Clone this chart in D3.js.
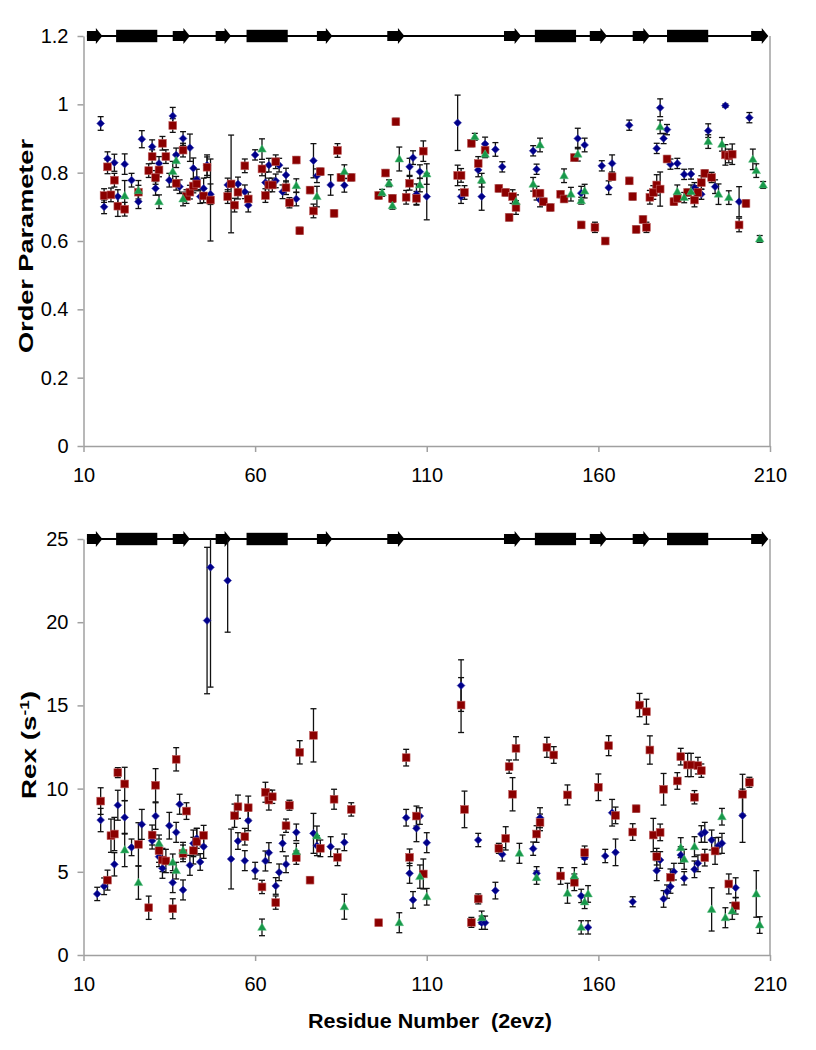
<!DOCTYPE html>
<html>
<head>
<meta charset="utf-8">
<script src="https://cdn.jsdelivr.net/npm/d3@7"></script>
<style>
  html, body { margin: 0; padding: 0; background: #fff; }
  svg { display: block; }
  text { font-family: "Liberation Sans", Arial, sans-serif; }
</style>
</head>
<body>
<svg id="chart" width="816" height="1050"></svg>
<script>
// ---------------- DATA ----------------
// Secondary structure (residue ranges)
const strands = [[11,15.5],[36,41],[48.5,53],[78,82.5],[98.5,103.5],[132.5,137.5],[157.5,162.5],[170,175],[204.5,209.5]];
const helices = [[19.5,31.5],[57.5,69.5],[141.5,153.5],[180,192]];

const xTicks = [10, 60, 110, 160, 210];
const s2Ticks = [0, 0.2, 0.4, 0.6, 0.8, 1, 1.2];
const rexTicks = [0, 5, 10, 15, 20, 25];

// Order parameter: [residue, value, error]
const s2Blue = [[15,0.944,0.02],[16,0.70,0.02],[17,0.841,0.02],[19,0.829,0.025],[20,0.73,0.02],[22,0.825,0.03],[24,0.778,0.02],[26,0.715,0.02],[27,0.898,0.025],[30,0.876,0.02],[31,0.754,0.02],[32,0.827,0.02],[35,0.778,0.02],[36,0.966,0.025],[37,0.852,0.02],[38,0.759,0.02],[39,0.90,0.02],[41,0.873,0.04],[42,0.813,0.03],[43,0.78,0.03],[44,0.73,0.02],[45,0.754,0.03],[46,0.822,0.03],[47,0.737,0.03],[52,0.764,0.02],[55,0.767,0.02],[57,0.744,0.02],[58,0.705,0.02],[60,0.852,0.015],[63,0.771,0.03],[64,0.822,0.02],[66,0.776,0.02],[67,0.822,0.02],[68,0.744,0.02],[69,0.793,0.02],[72,0.723,0.02],[77,0.835,0.05],[78,0.791,0.02],[82,0.764,0.03],[86,0.763,0.02],[105,0.817,0.025],[106,0.844,0.02],[107,0.737,0.03],[108,0.803,0.02],[110,0.73,0.068],[119,0.946,0.081],[120,0.73,0.02],[125,0.808,0.02],[126,0.73,0.04],[127,0.884,0.02],[130,0.868,0.02],[132,0.817,0.015],[141,0.864,0.015],[142,0.81,0.015],[143,0.72,0.02],[154,0.90,0.03],[155,0.74,0.02],[156,0.881,0.02],[161,0.82,0.015],[163,0.756,0.02],[164,0.827,0.025],[169,0.939,0.015],[177,0.871,0.015],[178,0.99,0.026],[179,0.90,0.015],[180,0.926,0.015],[181,0.825,0.015],[183,0.827,0.015],[185,0.795,0.015],[187,0.796,0.015],[188,0.756,0.015],[190,0.737,0.015],[192,0.923,0.02],[194,0.759,0.02],[197,0.996,0.005],[201,0.715,0.044],[204,0.961,0.015]];
const s2Red = [[16,0.733,0.02],[17,0.817,0.02],[18,0.735,0.02],[19,0.778,0.02],[20,0.702,0.03],[22,0.693,0.02],[26,0.743,0.02],[29,0.806,0.02],[30,0.847,0.02],[31,0.786,0.02],[32,0.808,0.02],[33,0.886,0.02],[34,0.847,0.02],[36,0.938,0.02],[37,0.769,0.02],[39,0.866,0.02],[40,0.73,0.02],[41,0.743,0.02],[42,0.761,0.02],[43,0.767,0.02],[45,0.732,0.02],[46,0.816,0.03],[47,0.72,0.12],[52,0.73,0.02],[53,0.767,0.143],[54,0.705,0.02],[55,0.743,0.02],[57,0.82,0.02],[58,0.723,0.02],[62,0.811,0.02],[63,0.733,0.02],[64,0.764,0.02],[65,0.764,0.02],[66,0.832,0.02],[69,0.756,0.02],[70,0.712,0.015],[72,0.837,0.01],[73,0.63,0.01],[76,0.749,0.01],[77,0.688,0.02],[79,0.803,0.01],[83,0.681,0.01],[84,0.865,0.02],[85,0.786,0.01],[88,0.786,0.01],[96,0.733,0.01],[98,0.799,0.01],[100,0.725,0.01],[101,0.949,0.01],[104,0.728,0.02],[105,0.769,0.02],[107,0.725,0.02],[109,0.863,0.03],[119,0.792,0.03],[120,0.792,0.02],[121,0.742,0.02],[123,0.886,0.01],[125,0.827,0.02],[127,0.866,0.02],[131,0.754,0.01],[133,0.742,0.01],[134,0.669,0.01],[135,0.73,0.02],[136,0.698,0.02],[142,0.74,0.02],[143,0.74,0.01],[144,0.715,0.01],[146,0.698,0.01],[149,0.737,0.01],[150,0.723,0.01],[153,0.844,0.01],[155,0.647,0.01],[159,0.64,0.015],[162,0.60,0.01],[164,0.788,0.01],[169,0.776,0.01],[170,0.73,0.01],[171,0.634,0.01],[173,0.663,0.01],[174,0.64,0.015],[175,0.728,0.02],[176,0.742,0.02],[177,0.764,0.03],[178,0.752,0.05],[180,0.84,0.01],[182,0.715,0.01],[183,0.725,0.01],[186,0.742,0.01],[188,0.72,0.02],[189,0.742,0.02],[190,0.771,0.02],[191,0.798,0.01],[193,0.786,0.015],[197,0.852,0.03],[198,0.849,0.02],[199,0.854,0.03],[201,0.647,0.02],[203,0.71,0.01]];
const s2Green = [[22,0.732,0.045],[26,0.747,0.03],[32,0.715,0.02],[36,0.803,0.03],[37,0.835,0.02],[39,0.723,0.02],[62,0.869,0.03],[72,0.762,0.02],[78,0.73,0.03],[86,0.803,0.02],[97,0.741,0.01],[99,0.769,0.01],[100,0.703,0.01],[102,0.84,0.035],[108,0.764,0.02],[110,0.796,0.03],[124,0.905,0.01],[126,0.778,0.02],[127,0.854,0.01],[136,0.715,0.02],[141,0.766,0.02],[143,0.881,0.02],[150,0.791,0.02],[152,0.737,0.02],[154,0.854,0.02],[155,0.718,0.01],[156,0.746,0.02],[178,0.934,0.02],[183,0.744,0.02],[185,0.727,0.015],[187,0.744,0.02],[192,0.891,0.02],[195,0.737,0.03],[196,0.883,0.02],[198,0.727,0.02],[205,0.839,0.03],[206,0.806,0.02],[207,0.606,0.01],[208,0.764,0.01]];

// Rex (s^-1): [residue, value, error]
const rexBlue = [[14,3.67,0.4],[15,8.11,0.7],[16,4.13,0.5],[19,5.45,0.7],[20,9.0,0.9],[22,8.27,1.0],[24,6.47,0.5],[27,7.85,0.9],[30,6.87,0.5],[31,8.35,0.8],[32,5.91,0.6],[33,5.21,0.6],[35,7.77,0.8],[36,4.35,0.6],[37,7.37,0.6],[38,9.06,0.6],[39,3.91,0.6],[41,5.39,0.6],[42,6.71,0.8],[43,7.01,0.6],[44,5.59,0.5],[45,6.51,0.7],[46,20.1,4.4],[47,23.3,7.2],[52,22.5,3.1],[53,5.77,1.8],[55,6.85,0.5],[57,5.67,0.6],[58,8.07,0.6],[60,5.07,0.5],[63,5.65,0.6],[64,6.15,0.6],[66,4.15,0.5],[67,4.97,0.5],[68,6.71,0.5],[69,5.45,0.5],[72,7.37,0.5],[77,7.31,1.2],[78,6.57,0.6],[82,6.51,0.6],[86,6.77,0.5],[104,8.25,0.5],[105,4.91,0.6],[106,3.31,0.5],[107,7.61,0.8],[108,8.35,0.5],[110,6.75,0.6],[120,16.19,1.55],[125,6.91,0.4],[126,1.94,0.4],[127,1.94,0.4],[130,3.87,0.5],[132,6.05,0.4],[141,6.39,0.4],[142,4.91,0.4],[143,8.25,0.6],[155,3.55,0.4],[156,5.85,0.4],[157,1.66,0.4],[162,5.95,0.4],[164,8.55,0.8],[165,6.17,0.8],[170,3.2,0.3],[177,5.07,0.6],[178,5.71,0.5],[179,3.37,0.5],[180,3.81,0.4],[181,4.11,0.4],[182,5.01,0.5],[184,6.01,0.5],[185,4.61,0.4],[188,5.15,0.5],[189,5.51,0.5],[190,7.27,0.5],[191,7.37,0.6],[193,6.91,0.6],[195,6.57,0.5],[196,6.71,0.6],[200,4.04,0.6],[202,8.37,1.6]];
const rexRed = [[15,9.25,0.8],[17,4.5,0.6],[18,7.17,1.0],[19,7.27,1.0],[20,10.96,0.3],[22,10.28,1.0],[26,6.65,1.3],[29,2.84,0.7],[30,7.21,0.6],[31,10.2,1.0],[32,6.27,0.7],[33,5.71,0.7],[34,5.65,0.7],[36,2.78,0.6],[37,11.76,0.7],[39,6.11,0.5],[40,8.65,0.5],[42,6.27,0.8],[43,6.81,0.8],[45,7.19,0.6],[54,8.37,0.7],[55,8.91,0.7],[57,7.11,0.5],[58,8.85,0.7],[62,4.09,0.4],[63,9.78,0.6],[64,9.31,0.6],[65,9.51,0.4],[66,3.15,0.4],[69,7.77,0.4],[70,9.0,0.3],[72,5.85,0.4],[73,12.18,0.7],[76,4.5,0.2],[77,13.2,1.6],[79,6.41,0.5],[83,9.36,0.6],[84,5.87,0.5],[88,8.75,0.4],[96,1.94,0.1],[104,11.86,0.5],[105,5.87,0.5],[107,8.35,0.6],[109,4.87,0.9],[120,15.02,1.65],[121,8.75,1.1],[123,1.96,0.3],[125,3.37,0.3],[131,6.41,0.3],[133,7.01,0.7],[134,11.32,0.4],[135,9.66,1.0],[136,12.42,0.7],[142,7.27,0.5],[143,7.97,0.5],[145,12.48,0.6],[147,12.02,0.5],[149,4.75,0.5],[151,9.62,0.6],[153,4.37,0.5],[156,6.15,0.4],[160,10.08,0.8],[163,12.58,0.6],[165,8.39,0.5],[170,7.39,0.5],[171,8.79,0.2],[172,15.02,0.7],[174,14.62,0.75],[175,12.32,0.85],[176,7.21,1.0],[177,5.91,0.5],[178,7.37,0.5],[179,9.96,0.95],[181,4.67,0.5],[183,10.46,0.5],[184,11.92,0.5],[186,11.42,0.7],[187,11.42,0.7],[188,9.48,0.4],[189,11.38,0.5],[190,11.08,0.4],[191,5.85,0.5],[194,6.25,0.8],[198,4.27,0.6],[200,2.96,0.5],[202,9.66,1.2],[204,10.38,0.3]];
const rexGreen = [[22,6.31,1.0],[26,4.35,1.0],[32,6.71,0.5],[36,5.57,0.5],[37,5.07,0.5],[39,6.27,0.5],[62,1.66,0.5],[72,6.21,0.5],[78,7.15,0.6],[86,2.9,0.75],[102,1.94,0.6],[108,4.71,0.7],[110,3.5,0.5],[126,2.24,0.4],[137,6.11,0.6],[142,4.65,0.4],[151,3.71,0.6],[153,4.75,0.5],[155,1.66,0.4],[156,3.19,0.4],[157,3.67,0.5],[184,6.45,0.6],[185,5.75,0.6],[188,6.51,0.6],[193,2.74,1.3],[196,8.31,0.5],[197,2.24,0.6],[199,2.64,0.5],[206,3.67,1.4],[207,1.8,0.5]];

// ---------------- DRAWING ----------------
const svg = d3.select("#chart");
const BLUE = "#00008B", RED = "#8B0000", GREEN = "#17994A", AXIS = "#A0A0A0";

const x = d3.scaleLinear().domain([10, 210]).range([83.5, 770]);

function panel(cfg) {
  const y = d3.scaleLinear().domain(cfg.domain).range([cfg.bottom, cfg.top]);
  const g = svg.append("g");

  // right frame line
  g.append("line").attr("x1", x(210)).attr("x2", x(210)).attr("y1", y(cfg.domain[1])).attr("y2", y(0))
    .attr("stroke", AXIS).attr("stroke-width", 1.5);

  const yAxis = d3.axisLeft(y).tickValues(cfg.ticks).tickSize(6).tickSizeOuter(0).tickPadding(9)
    .tickFormat(d => String(d));
  const ya = g.append("g").attr("transform", `translate(${x(10)},0)`).call(yAxis);
  const xAxis = d3.axisBottom(x).tickValues(xTicks).tickSize(6).tickSizeOuter(0).tickPadding(18)
    .tickFormat(d3.format("d"));
  const xa = g.append("g").attr("transform", `translate(0,${y(0)})`).call(xAxis);
  [ya, xa].forEach(a => {
    a.select(".domain").attr("stroke", AXIS).attr("stroke-width", 1.5);
    a.selectAll(".tick line").attr("stroke", AXIS).attr("stroke-width", 1.5);
    a.selectAll(".tick text").attr("fill", "#000").style("font-size", "20px")
      .style("font-family", '"Liberation Sans", Arial, sans-serif');
  });
  xa.selectAll(".tick text").attr("dy", "0.6em");

  // secondary structure
  const sy = y(cfg.domain[1]);
  const ss = g.append("g");
  ss.append("line").attr("x1", x(strands[0][0])).attr("x2", x(210) - 4).attr("y1", sy).attr("y2", sy)
    .attr("stroke", "#000").attr("stroke-width", 2);
  ss.selectAll("rect.helix").data(helices).join("rect").attr("class", "helix")
    .attr("x", d => x(d[0])).attr("width", d => x(d[1]) - x(d[0]))
    .attr("y", sy - 6.2).attr("height", 12.4).attr("fill", "#000");
  ss.selectAll("path.strand").data(strands).join("path").attr("class", "strand")
    .attr("d", d => {
      const x0 = x(d[0]), x1 = x(d[1]), hl = 6.5;
      return `M${x0},${sy - 5}L${x1 - hl},${sy - 5}L${x1 - hl},${sy - 8}L${x1},${sy}L${x1 - hl},${sy + 8}L${x1 - hl},${sy + 5}L${x0},${sy + 5}Z`;
    }).attr("fill", "#000");

  // error bars
  const clampY = v => y(Math.max(cfg.domain[0], Math.min(cfg.domain[1], v)));
  [cfg.blue, cfg.red, cfg.green].forEach(data => {
    const eb = g.append("g").attr("stroke", "#111").attr("stroke-width", 1.3);
    eb.selectAll("line.v").data(data).join("line").attr("class", "v")
      .attr("x1", d => x(d[0])).attr("x2", d => x(d[0]))
      .attr("y1", d => clampY(d[1] + d[2])).attr("y2", d => clampY(d[1] - d[2]));
    eb.selectAll("line.t").data(data.filter(d => d[1] + d[2] <= cfg.domain[1])).join("line").attr("class", "t")
      .attr("x1", d => x(d[0]) - 3).attr("x2", d => x(d[0]) + 3)
      .attr("y1", d => y(d[1] + d[2])).attr("y2", d => y(d[1] + d[2]));
    eb.selectAll("line.b").data(data).join("line").attr("class", "b")
      .attr("x1", d => x(d[0]) - 3).attr("x2", d => x(d[0]) + 3)
      .attr("y1", d => y(d[1] - d[2])).attr("y2", d => y(d[1] - d[2]));
  });

  // markers
  const diamond = d3.symbol().type(d3.symbolDiamond2).size(38);
  g.selectAll("path.blue").data(cfg.blue).join("path").attr("class", "blue")
    .attr("transform", d => `translate(${x(d[0])},${y(d[1])})`)
    .attr("d", diamond).attr("fill", BLUE).attr("stroke", "#3a3aa8").attr("stroke-width", 0.6);
  g.selectAll("rect.red").data(cfg.red).join("rect").attr("class", "red")
    .attr("x", d => x(d[0]) - 3.9).attr("y", d => y(d[1]) - 3.9)
    .attr("width", 7.8).attr("height", 7.8)
    .attr("fill", RED).attr("stroke", "#c06060").attr("stroke-width", 0.6);
  const tri = d3.symbol().type(d3.symbolTriangle).size(32);
  g.selectAll("path.green").data(cfg.green).join("path").attr("class", "green")
    .attr("transform", d => `translate(${x(d[0])},${y(d[1]) + 0.5})`)
    .attr("d", tri).attr("fill", GREEN).attr("stroke", "#5cbf80").attr("stroke-width", 0.5);

  return y;
}

panel({ domain: [0, 1.2], top: 36, bottom: 446, ticks: s2Ticks, blue: s2Blue, red: s2Red, green: s2Green });
panel({ domain: [0, 25], top: 539, bottom: 955, ticks: rexTicks, blue: rexBlue, red: rexRed, green: rexGreen });

// axis titles
svg.append("text").attr("transform", "translate(33,246) rotate(-90)")
  .attr("text-anchor", "middle").style("font-size", "21px").style("font-weight", "bold")
  .attr("textLength", 214).attr("lengthAdjust", "spacingAndGlyphs")
  .text("Order Parameter");

const rexT = svg.append("text").attr("transform", "translate(36,745) rotate(-90)")
  .attr("text-anchor", "middle").style("font-size", "21px").style("font-weight", "bold")
  .attr("textLength", 108).attr("lengthAdjust", "spacingAndGlyphs");
rexT.append("tspan").text("Rex (s");
rexT.append("tspan").attr("baseline-shift", "super").style("font-size", "13px").text("-1");
rexT.append("tspan").text(")");

svg.append("text").attr("x", 430).attr("y", 1028)
  .attr("text-anchor", "middle").style("font-size", "21px").style("font-weight", "bold")
  .style("white-space", "pre")
  .attr("textLength", 244).attr("lengthAdjust", "spacingAndGlyphs")
  .text("Residue Number  (2evz)");
</script>
</body>
</html>
